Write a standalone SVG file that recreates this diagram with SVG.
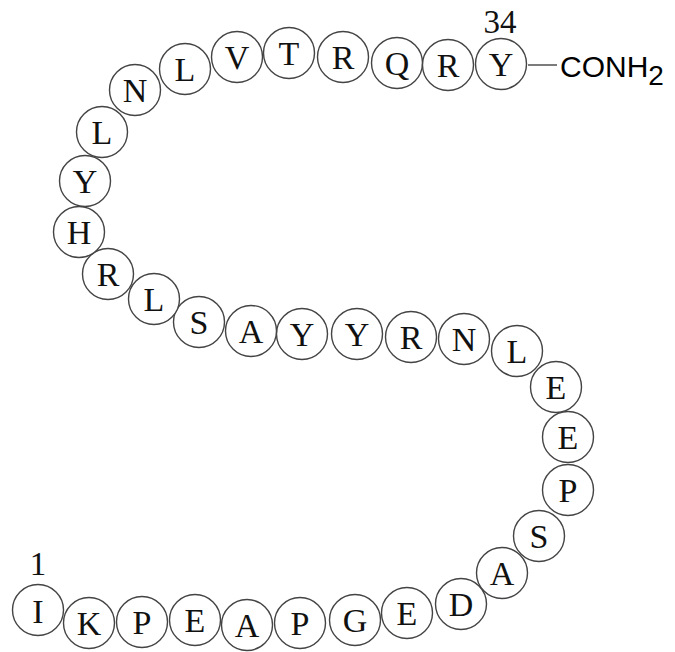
<svg xmlns="http://www.w3.org/2000/svg" width="675" height="652" viewBox="0 0 675 652">
<style>
.r circle{fill:#fff;stroke:#444;stroke-width:1.4}
.r text{font-family:"Liberation Serif",serif;font-size:34px;fill:#111;text-anchor:middle}
.lbl{font-family:"Liberation Serif",serif;font-size:33px;fill:#111;text-anchor:middle}
.ch{font-family:"Liberation Sans",Arial,sans-serif;font-size:30px;fill:#000}
</style>
<rect width="675" height="652" fill="#fff"/>
<g id="connectors">
<line x1="528" y1="65" x2="557" y2="65" stroke="#444" stroke-width="1.4"/>
</g>
<g class="r">
<g id="r1"><circle cx="38" cy="610" r="25.5"/><text x="38" y="623">I</text></g>
<g id="r2"><circle cx="89" cy="623" r="25.5"/><text x="89" y="635">K</text></g>
<g id="r3"><circle cx="142" cy="622" r="25.5"/><text x="142" y="634">P</text></g>
<g id="r4"><circle cx="195" cy="620" r="25.5"/><text x="195" y="632">E</text></g>
<g id="r5"><circle cx="247" cy="625" r="25.5"/><text x="247" y="637">A</text></g>
<g id="r6"><circle cx="300" cy="623" r="25.5"/><text x="300" y="635">P</text></g>
<g id="r7"><circle cx="355" cy="620" r="25.5"/><text x="355" y="632">G</text></g>
<g id="r8"><circle cx="407" cy="613" r="25.5"/><text x="407" y="625">E</text></g>
<g id="r9"><circle cx="461" cy="604" r="25.5"/><text x="461" y="616">D</text></g>
<g id="r10"><circle cx="502" cy="573" r="25.5"/><text x="502" y="585">A</text></g>
<g id="r11"><circle cx="539" cy="536" r="25.5"/><text x="539" y="548">S</text></g>
<g id="r12"><circle cx="568" cy="490" r="25.5"/><text x="568" y="502">P</text></g>
<g id="r13"><circle cx="568" cy="437" r="25.5"/><text x="568" y="449">E</text></g>
<g id="r14"><circle cx="556" cy="387" r="25.5"/><text x="556" y="399">E</text></g>
<g id="r15"><circle cx="517" cy="351" r="25.5"/><text x="517" y="363">L</text></g>
<g id="r16"><circle cx="464" cy="339" r="25.5"/><text x="464" y="351">N</text></g>
<g id="r17"><circle cx="411" cy="337" r="25.5"/><text x="411" y="349">R</text></g>
<g id="r18"><circle cx="357" cy="334" r="25.5"/><text x="357" y="346">Y</text></g>
<g id="r19"><circle cx="302" cy="334" r="25.5"/><text x="302" y="346">Y</text></g>
<g id="r20"><circle cx="251" cy="331" r="25.5"/><text x="251" y="343">A</text></g>
<g id="r21"><circle cx="199" cy="322" r="25.5"/><text x="199" y="334">S</text></g>
<g id="r22"><circle cx="154" cy="299" r="25.5"/><text x="154" y="311">L</text></g>
<g id="r23"><circle cx="108" cy="274" r="25.5"/><text x="108" y="286">R</text></g>
<g id="r24"><circle cx="79" cy="232" r="25.5"/><text x="79" y="244">H</text></g>
<g id="r25"><circle cx="85" cy="181" r="25.5"/><text x="85" y="193">Y</text></g>
<g id="r26"><circle cx="102" cy="132" r="25.5"/><text x="102" y="144">L</text></g>
<g id="r27"><circle cx="135" cy="90" r="25.5"/><text x="135" y="102">N</text></g>
<g id="r28"><circle cx="185" cy="69" r="25.5"/><text x="185" y="81">L</text></g>
<g id="r29"><circle cx="237" cy="57" r="25.5"/><text x="237" y="69">V</text></g>
<g id="r30"><circle cx="289" cy="53" r="25.5"/><text x="289" y="65">T</text></g>
<g id="r31"><circle cx="343" cy="57" r="25.5"/><text x="343" y="69">R</text></g>
<g id="r32"><circle cx="397" cy="63" r="25.5"/><text x="397" y="75">Q</text></g>
<g id="r33"><circle cx="448" cy="65" r="25.5"/><text x="448" y="77">R</text></g>
<g id="r34"><circle cx="501" cy="64" r="25.5"/><text x="501" y="76">Y</text></g>
</g>
<g id="labels">
<text class="lbl" x="500" y="33">34</text>
<text class="lbl" x="38" y="575">1</text>
<text class="ch" x="560" y="77">CONH<tspan font-size="28" dy="8">2</tspan></text>
</g>
</svg>
